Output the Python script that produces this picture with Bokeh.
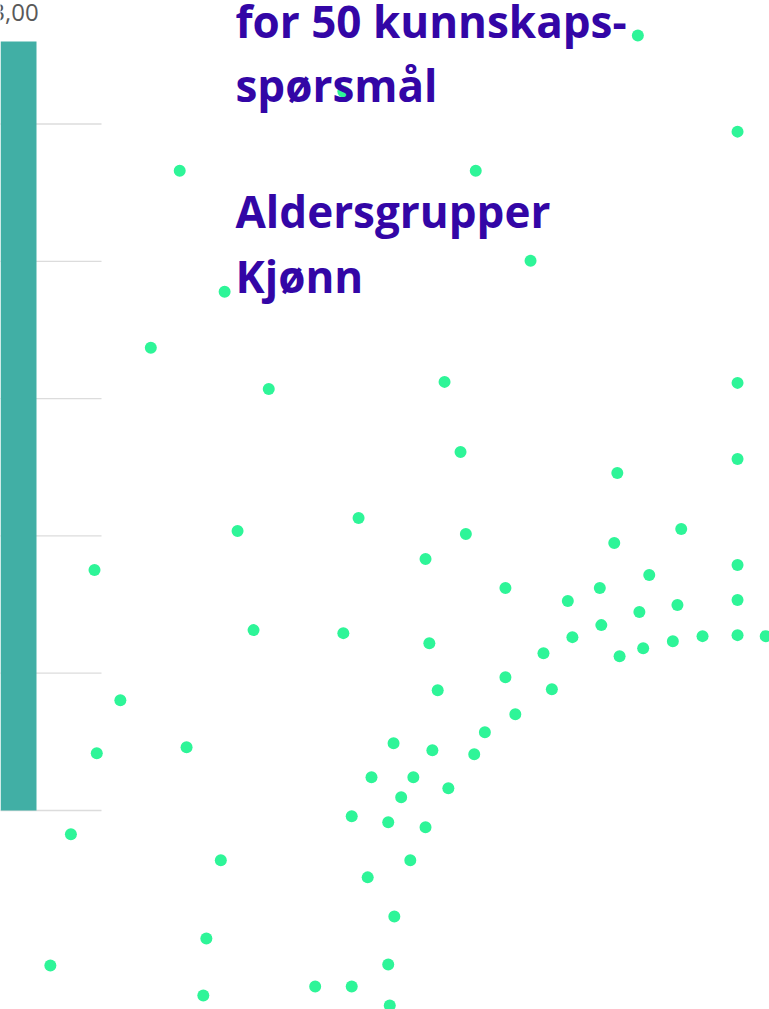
from bokeh.plotting import figure
from bokeh.models import Range1d, Label, ColumnDataSource
from bokeh.embed import file_html
from bokeh.resources import INLINE
from bokeh.core.properties import value

# ---- data -------------------------------------------------------------
# Scatter: knowledge-question results (x, y on a 0-100 scale)
score_x = [82.7, 44.0, 95.8, 22.5, 61.4, 68.6, 28.4, 18.7, 34.2, 57.3,
           95.8, 59.4, 95.8, 80.0, 30.1, 46.0, 60.1, 88.4, 79.6, 11.3,
           54.8, 95.8, 84.2, 65.3, 77.7, 73.5, 95.8, 87.9, 82.9, 77.9,
           32.2, 44.0, 74.1, 91.2, 95.8, 99.5, 55.3, 87.3, 83.4, 80.3,
           70.3, 65.3, 56.4, 71.4, 14.7, 66.6, 62.6, 50.6, 23.4, 11.6,
           55.7, 61.2, 47.7, 53.2, 57.8, 51.6, 45.1, 49.9, 54.8, 8.2,
           27.9, 52.8, 47.2, 50.7, 26.0, 5.5, 49.9, 25.6, 40.3, 45.1,
           50.1]
score_y = [97.3, 91.7, 87.7, 83.8, 83.8, 74.8, 71.7, 66.1, 62.0, 62.7,
           62.6, 55.7, 55.0, 53.6, 47.8, 49.1, 47.5, 48.0, 46.6, 43.9,
           45.0, 44.4, 43.4, 42.1, 42.1, 40.8, 40.9, 40.4, 39.7, 38.4,
           37.9, 37.6, 37.2, 37.3, 37.4, 37.3, 36.6, 36.8, 36.1, 35.3,
           35.6, 33.2, 31.9, 32.0, 30.9, 29.5, 27.7, 26.6, 26.2, 25.6,
           25.9, 25.5, 23.2, 23.2, 22.1, 21.2, 19.3, 18.7, 18.2, 17.5,
           14.9, 14.9, 13.2, 9.3, 7.1, 4.4, 4.5, 1.4, 2.3, 2.3,
           0.4]

# Bar panel (left)
bar_index = [0]
bar_values = [2.8]
bar_labels = ["3,00"]
grid_values = [0.0, 0.5, 1.0, 1.5, 2.0, 2.5]

title_lines = ["for 50 kunnskaps-", "spørsmål", "Aldersgrupper", "Kjønn"]

# ---- figure -----------------------------------------------------------
W, H = 769, 1009
p = figure(width=W, height=H, output_backend="svg", toolbar_location=None,
           x_range=Range1d(-1.0512, 100.0), y_range=Range1d(0, 100.8),
           x_axis_type=None, y_axis_type=None, min_border=0,
           background_fill_color="white", border_fill_color="white")
p.outline_line_color = None
p.grid.visible = False

p.extra_x_ranges = {"bar": Range1d(0.0, 7.69)}
p.extra_y_ranges = {"bar": Range1d(-0.7247, 2.9497)}

# gridlines of bar panel
p.segment(x0=[-0.1] * len(grid_values), x1=[1.01] * len(grid_values),
          y0=grid_values, y1=grid_values,
          x_range_name="bar", y_range_name="bar",
          line_color="#dcdcdc", line_width=1.3)

# bar
bar_src = ColumnDataSource(dict(x=[i * 1.0 + 0.145 for i in bar_index],
                                top=bar_values, label=bar_labels))
p.vbar(x="x", top="top", bottom=0, width=0.43, source=bar_src,
       x_range_name="bar", y_range_name="bar",
       fill_color="#41afa5", line_color=None)
p.text(x="x", y="top", text="label", source=bar_src,
       x_range_name="bar", y_range_name="bar",
       text_align="center", text_baseline="middle", y_offset=-29,
       text_font=value("Open Sans"), text_font_size="24px",
       text_color="#595959")

# scatter
p.scatter(score_x, score_y, size=12, fill_color="#2ef598", line_color=None)

# title text
centers = [989, 925, 799, 734]
for txt, yc in zip(title_lines, centers):
    p.add_layout(Label(x=235, y=yc, x_units="screen", y_units="screen",
                       text=txt, text_font="Open Sans", text_font_size="44px",
                       text_font_style="bold", text_color="#3306a6",
                       text_baseline="middle", text_align="left"))

open("out.html", "w").write(file_html(p, INLINE))
